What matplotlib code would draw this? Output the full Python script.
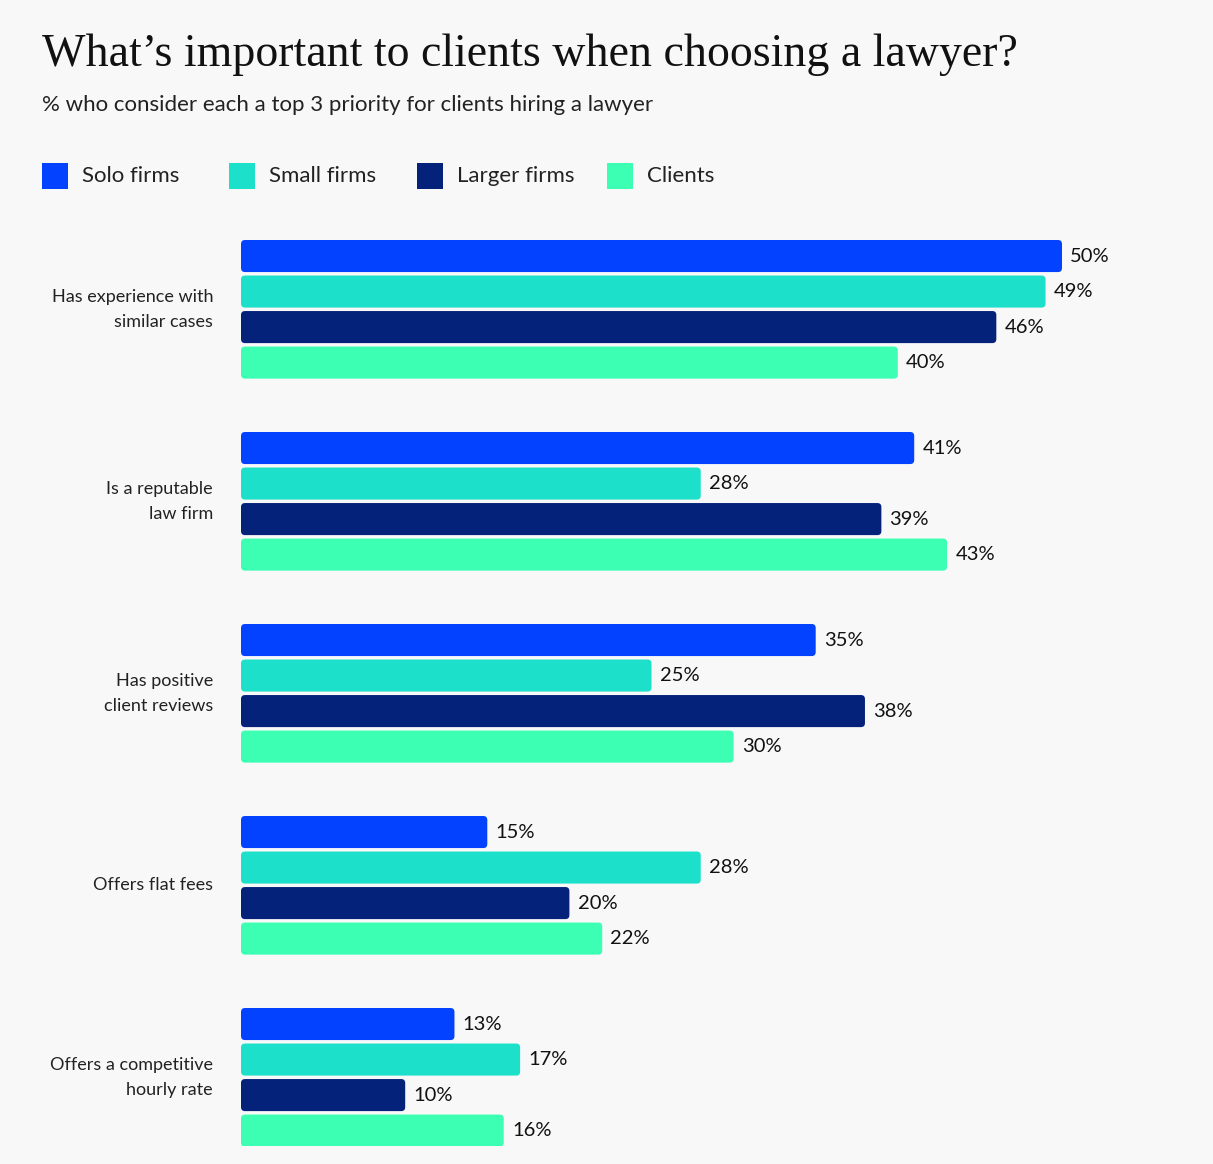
import numpy as np
import matplotlib.pyplot as plt
from matplotlib.patches import FancyBboxPatch, Rectangle

categories = ["Has experience with\nsimilar cases", "Is a reputable\nlaw firm",
              "Has positive\nclient reviews", "Offers flat fees",
              "Offers a competitive\nhourly rate"]
series = ["Solo firms", "Small firms", "Larger firms", "Clients"]
solo = [50, 41, 35, 15, 13]
small = [49, 28, 25, 28, 17]
larger = [46, 39, 38, 20, 10]
clients = [40, 43, 30, 22, 16]
colors = ["#0343FF", "#1DE0CA", "#04227A", "#3DFFB4"]

BG = "#F8F8F8"
W, H = 1213, 1164
sans = ["Lato", "DejaVu Sans"]
serif = ["Liberation Serif", "DejaVu Serif"]

fig = plt.figure(figsize=(W / 100, H / 100), dpi=100, facecolor=BG)

# axes placed in pixel terms
left, top, right, bottom = 241, 240, 1213, 1146
ax = fig.add_axes([left / W, 1 - bottom / H, (right - left) / W, (bottom - top) / H])
ax.set_facecolor(BG)
px_per_pct = 16.42
ax.set_xlim(0, (right - left) / px_per_pct)

pitch = 0.185
bh = 0.167
span = (bottom - top) / 192
y_top = -1.5 * pitch - bh / 2
ax.set_ylim(y_top + span, y_top)

g = np.arange(len(categories))
for j, vals in enumerate([solo, small, larger, clients]):
    ys = g + (j - 1.5) * pitch
    bars = ax.barh(ys, vals, height=bh, color=colors[j])
    for b, v in zip(bars, vals):
        x0, y0 = b.get_x(), b.get_y()
        w, h = b.get_width(), b.get_height()
        b.set_visible(False)
        r = 4 / px_per_pct
        fb = FancyBboxPatch((x0, y0), w, h,
                            boxstyle=f"round,pad=0,rounding_size={r}",
                            mutation_aspect=(4 / 192) / r,
                            fc=colors[j], ec="none")
        ax.add_patch(fb)
        ax.text(v + 0.5, y0 + h / 2, f"{v}%", va="center", ha="left",
                fontsize=14.5, color="#111111", family=sans)

for i, c in enumerate(categories):
    ax.text(-28 / px_per_pct, i, c, ha="right", va="center", fontsize=13,
            color="#222222", family=sans, linespacing=1.65)

ax.axis("off")

# title + subtitle
fig.text(42 / W, 1 - 55 / H, "What\u2019s important to clients when choosing a lawyer?",
         fontsize=33, family=serif, color="#111111", va="center", ha="left")
fig.text(42 / W, 1 - 105 / H, "% who consider each a top 3 priority for clients hiring a lawyer",
         fontsize=16, family=sans, color="#222222", va="center", ha="left")

# legend
leg_x = [42, 229, 417, 607]
for x, s, c in zip(leg_x, series, colors):
    fig.patches.append(Rectangle((x / W, 1 - 189 / H), 26 / W, 26 / H,
                                 transform=fig.transFigure, fc=c, ec="none"))
    fig.text((x + 40) / W, 1 - 176 / H, s, fontsize=16, family=sans,
             color="#222222", va="center", ha="left")

fig.savefig("out.png", dpi=100, facecolor=BG)
